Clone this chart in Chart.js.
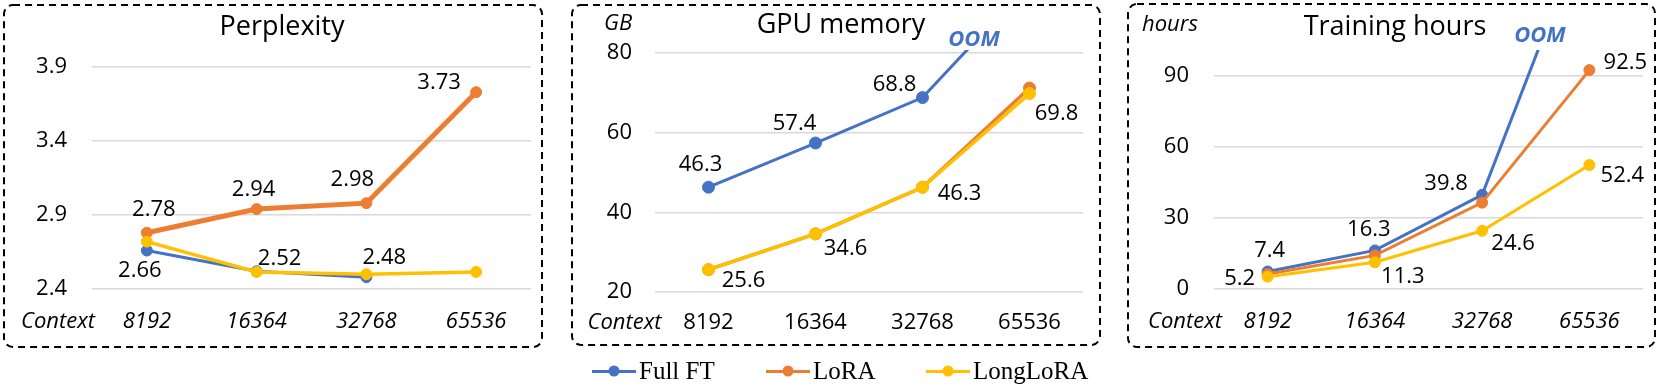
<!DOCTYPE html>
<html><head><meta charset="utf-8">
<script src="https://cdn.jsdelivr.net/npm/chart.js@4.4.1/dist/chart.umd.min.js"></script>
<style>
html,body{margin:0;padding:0;background:#fff;width:1660px;height:388px;overflow:hidden;position:relative;}
canvas{position:absolute;top:0;}
#legend{position:absolute;left:0;top:0;width:1660px;height:388px;font-family:"Liberation Serif","Times New Roman",serif;font-size:25px;color:#000;}
.item{position:absolute;top:356px;height:30px;display:flex;align-items:center;white-space:nowrap;}
.sw{position:relative;width:44px;height:3px;margin-right:3px;}
.dot{position:absolute;left:50%;top:50%;width:11px;height:11px;border-radius:50%;transform:translate(-50%,-50%);}
</style></head><body>
<canvas id="c1" width="550" height="352" style="left:0px"></canvas>
<canvas id="c2" width="540" height="352" style="left:566px"></canvas>
<canvas id="c3" width="538" height="352" style="left:1122px"></canvas>
<div id="legend"></div>
<script>
// ---------- data ----------
const contexts = ['8192', '16364', '32768', '65536'];
const seriesNames = ['Full FT', 'LoRA', 'LongLoRA'];
const pplFull = [2.66, 2.52, 2.48, null];
const pplLora = [2.78, 2.94, 2.98, 3.73];
const pplLong = [2.72, 2.515, 2.50, 2.515];
const memFull = [46.3, 57.4, 68.8, 97.5];   // last point: OOM, runs off the chart
const memLora = [25.6, 34.6, 46.3, 71.2];
const memLong = [25.6, 34.6, 46.3, 69.8];
const hrsFull = [7.4, 16.3, 39.8, 157];     // last point: OOM, runs off the chart
const hrsLora = [6.3, 14.2, 36.5, 92.5];
const hrsLong = [5.2, 11.3, 24.6, 52.4];
const pplTicks = [2.4, 2.9, 3.4, 3.9];
const memTicks = [20, 40, 60, 80];
const hrsTicks = [0, 30, 60, 90];
const titles = ['Perplexity', 'GPU memory', 'Training hours'];

// ---------- styles ----------
const COLORS = ['#4472C4', '#ED7D31', '#FFC000'];
const FONT = '"Open Sans", "Noto Sans", sans-serif';

function decor(p) {
  return {
    id: 'decor',
    beforeDraw(chart) {
      const ctx = chart.ctx;
      const b = p.box;
      ctx.save();
      ctx.strokeStyle = '#000';
      ctx.lineWidth = 2;
      ctx.setLineDash([7, 5]);
      ctx.beginPath();
      ctx.roundRect(b[0], b[1], b[2], b[3], 9);
      ctx.stroke();
      ctx.restore();
    },
    afterDatasetsDraw(chart) {
      const ctx = chart.ctx;
      ctx.save();
      ctx.fillStyle = '#000';
      ctx.textAlign = 'center';
      ctx.textBaseline = 'middle';
      ctx.font = '22px ' + FONT;
      p.labels.forEach(l => {
        const el = chart.getDatasetMeta(l.ds).data[l.i];
        const v = chart.data.datasets[l.ds].data[l.i];
        ctx.fillText(v.toFixed(p.dec), el.x + l.dx, el.y + l.dy);
      });
      const xs = chart.scales.x;
      ctx.font = 'italic 22px ' + FONT;
      ctx.fillText('Context', p.ctxX, xs.top + p.xPad + 13.2);
      if (p.unit) ctx.fillText(p.unit.text, p.unit.x, p.unit.y);
      if (p.oom) {
        ctx.font = 'italic bold 22px ' + FONT;
        ctx.fillStyle = COLORS[0];
        ctx.fillText('OOM', xs.getPixelForValue(3) + p.oom.dx, chart.chartArea.top + p.oom.dy);
      }
      ctx.restore();
    }
  };
}

function makeChart(id, p) {
  const datasets = p.series.map((d, k) => ({
    label: seriesNames[k],
    data: d,
    borderColor: COLORS[k],
    backgroundColor: COLORS[k],
    pointBackgroundColor: COLORS[k],
    pointBorderColor: COLORS[k],
    pointBorderWidth: 1,
    borderWidth: p.widths[k],
    pointRadius: ctx => (ctx.raw != null && ctx.raw > p.max) ? 0 : p.radius,
    tension: 0,
    spanGaps: false,
    order: 3 - k
  }));
  return new Chart(document.getElementById(id), {
    type: 'line',
    data: { labels: contexts, datasets },
    plugins: [decor(p)],
    options: {
      responsive: false,
      animation: false,
      devicePixelRatio: 1,
      layout: { padding: { left: p.L, right: p.R, top: 0, bottom: 0 } },
      plugins: {
        legend: { display: false },
        tooltip: { enabled: false },
        title: {
          display: true, text: p.title, color: '#000',
          font: { family: FONT, size: 27, weight: 'normal', lineHeight: 1.2 },
          padding: { top: p.tPadTop, bottom: p.tPadBottom }
        }
      },
      scales: {
        x: {
          type: 'category', offset: true,
          grid: { display: false, drawTicks: false },
          border: { display: false },
          ticks: {
            color: '#000', padding: p.xPad, maxRotation: 0, autoSkip: false,
            font: { family: FONT, size: 22, style: p.italicX ? 'italic' : 'normal', lineHeight: 1.2 }
          },
          afterFit: s => { s.height = p.xAxisH; }
        },
        y: {
          min: p.min, max: p.max,
          grid: { color: '#d9d9d9', lineWidth: 1.5, drawTicks: false },
          border: { display: false },
          ticks: {
            color: '#000', padding: p.yPad,
            font: { family: FONT, size: 22, lineHeight: 1.2 },
            callback: v => String(v)
          },
          afterBuildTicks: s => { s.ticks = p.ticks.map(v => ({ value: v })); },
          afterFit: s => { s.width = p.yAxisW; }
        }
      }
    }
  });
}

makeChart('c1', {
  title: titles[0], series: [pplFull, pplLora, pplLong], ticks: pplTicks,
  min: 2.4, max: 3.9, widths: [3, 5, 3.5], radius: 5.5, italicX: true,
  L: 33, R: 19, yAxisW: 59, yPad: 25, tPadTop: 10.8, tPadBottom: 23.8,
  xAxisH: 63, xPad: 20, dec: 2, ctxX: 58,
  box: [4, 5, 538, 342],
  labels: [
    { ds: 1, i: 0, dx: 7, dy: -23 }, { ds: 1, i: 1, dx: -3, dy: -19 },
    { ds: 1, i: 2, dx: -14, dy: -23 }, { ds: 1, i: 3, dx: -37, dy: -9 },
    { ds: 0, i: 0, dx: -7, dy: 20 }, { ds: 0, i: 1, dx: 23, dy: -13 },
    { ds: 0, i: 2, dx: 18, dy: -19 }
  ]
});

makeChart('c2', {
  title: titles[1], series: [memFull, memLora, memLong], ticks: memTicks,
  min: 20, max: 80.75, widths: [3, 3.5, 3.5], radius: 6, italicX: false,
  L: 33, R: 23, yAxisW: 56, yPad: 23, tPadTop: 8.8, tPadBottom: 8.8,
  xAxisH: 60, xPad: 18, dec: 1, ctxX: 58.5,
  box: [6, 5, 528, 340],
  unit: { text: 'GB', x: 52, y: 24 },
  oom: { dx: -55.5, dy: -10 },
  labels: [
    { ds: 0, i: 0, dx: -8, dy: -22 }, { ds: 0, i: 1, dx: -21, dy: -19 },
    { ds: 0, i: 2, dx: -28, dy: -13 },
    { ds: 2, i: 0, dx: 35, dy: 11 }, { ds: 2, i: 1, dx: 30, dy: 15 },
    { ds: 2, i: 2, dx: 37, dy: 7 }, { ds: 2, i: 3, dx: 27, dy: 20 }
  ]
});

makeChart('c3', {
  title: titles[2], series: [hrsFull, hrsLora, hrsLong], ticks: hrsTicks,
  min: 0, max: 101, widths: [3, 3, 3], radius: 5.5, italicX: true,
  L: 25, R: 17, yAxisW: 67, yPad: 25, tPadTop: 10.8, tPadBottom: 6.8,
  xAxisH: 63, xPad: 20, dec: 1, ctxX: 63,
  box: [6, 4, 527, 343],
  unit: { text: 'hours', x: 48, y: 25 },
  oom: { dx: -49.4, dy: -14 },
  labels: [
    { ds: 0, i: 0, dx: 2, dy: -21 }, { ds: 0, i: 1, dx: -6, dy: -21 },
    { ds: 0, i: 2, dx: -36, dy: -11 },
    { ds: 2, i: 0, dx: -28, dy: 2 }, { ds: 2, i: 1, dx: 28, dy: 14 },
    { ds: 2, i: 2, dx: 31, dy: 13 }, { ds: 2, i: 3, dx: 33, dy: 11 },
    { ds: 1, i: 3, dx: 36, dy: -7 }
  ]
});

// ---------- legend ----------
const legendLeft = [592, 766, 926];
const legend = document.getElementById('legend');
seriesNames.forEach((name, k) => {
  const item = document.createElement('div');
  item.className = 'item';
  item.style.left = legendLeft[k] + 'px';
  const sw = document.createElement('span');
  sw.className = 'sw';
  sw.style.background = COLORS[k];
  const dot = document.createElement('span');
  dot.className = 'dot';
  dot.style.background = COLORS[k];
  sw.appendChild(dot);
  const t = document.createElement('span');
  t.textContent = name;
  item.appendChild(sw);
  item.appendChild(t);
  legend.appendChild(item);
});
</script>
</body></html>
